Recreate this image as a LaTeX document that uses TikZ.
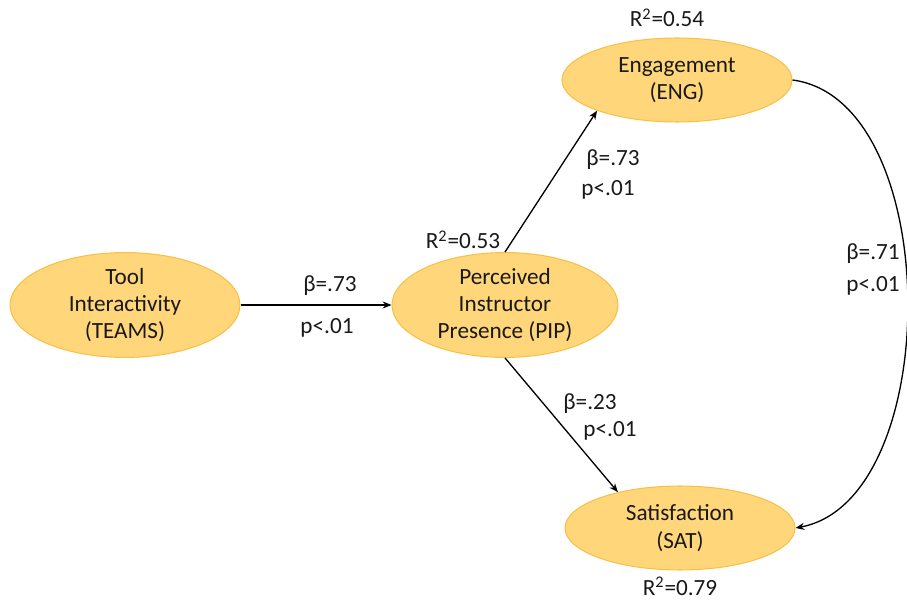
\documentclass[tikz,border=0pt]{standalone}
\usepackage{fontspec}
\setmainfont{Carlito}
\usepackage{xcolor}
\usetikzlibrary{shapes.geometric,arrows.meta}
\definecolor{lightgold}{RGB}{255,214,122}
\definecolor{darkgold}{RGB}{248,192,70}
\definecolor{textgray}{RGB}{25,25,25}

\begin{document}
\begin{tikzpicture}[x=0.02cm,y=-0.02cm,
  font=\fontsize{13.2}{15.6}\selectfont, text=textgray,
  construct/.style={ellipse, fill=lightgold, draw=darkgold, line width=0.6pt,
    inner sep=0pt, minimum width=4.6cm, minimum height=1.68cm, align=center},
  path/.style={-{Stealth[length=5pt,width=4pt]}, line width=0.75pt},
  stat/.style={inner sep=0pt}]
  \useasboundingbox (0,0) rectangle (907,601);

  \node[construct] (teams) at (125,305) {Tool\\Interactivity\\(TEAMS)};
  \node[construct, minimum width=4.52cm, minimum height=1.84cm] (pip) at (505,305) {Perceived\\Instructor\\Presence (PIP)};
  \node[construct] (eng) at (677,80) {Engagement\\(ENG)};
  \node[construct] (sat) at (680,528) {Satisfaction\\(SAT)};

  \node[stat] (r2pip) at (463,240) {R\textsuperscript{2}=0.53};
  \node[stat] (r2eng) at (667,18) {R\textsuperscript{2}=0.54};
  \node[stat] (r2sat) at (680,586) {R\textsuperscript{2}=0.79};

  \draw[path] (teams.east) -- (pip.west);
  \draw[path] (pip.north) -- (eng.201);
  \draw[path] (pip.south) -- (sat.150);
  \draw[path] (eng.east) .. controls (945,100) and (945,500) .. (sat.east);

  \node[stat] (b1) at (330,286) {β=.73};
  \node[stat] (p1) at (327,328) {p<.01};
  \node[stat] (b2) at (613,160) {β=.73};
  \node[stat] (p2) at (608,190) {p<.01};
  \node[stat] (b3) at (590,404) {β=.23};
  \node[stat] (p3) at (610,431) {p<.01};
  \node[stat] (b4) at (873,254) {β=.71};
  \node[stat] (p4) at (873,286) {p<.01};
\end{tikzpicture}
\end{document}
